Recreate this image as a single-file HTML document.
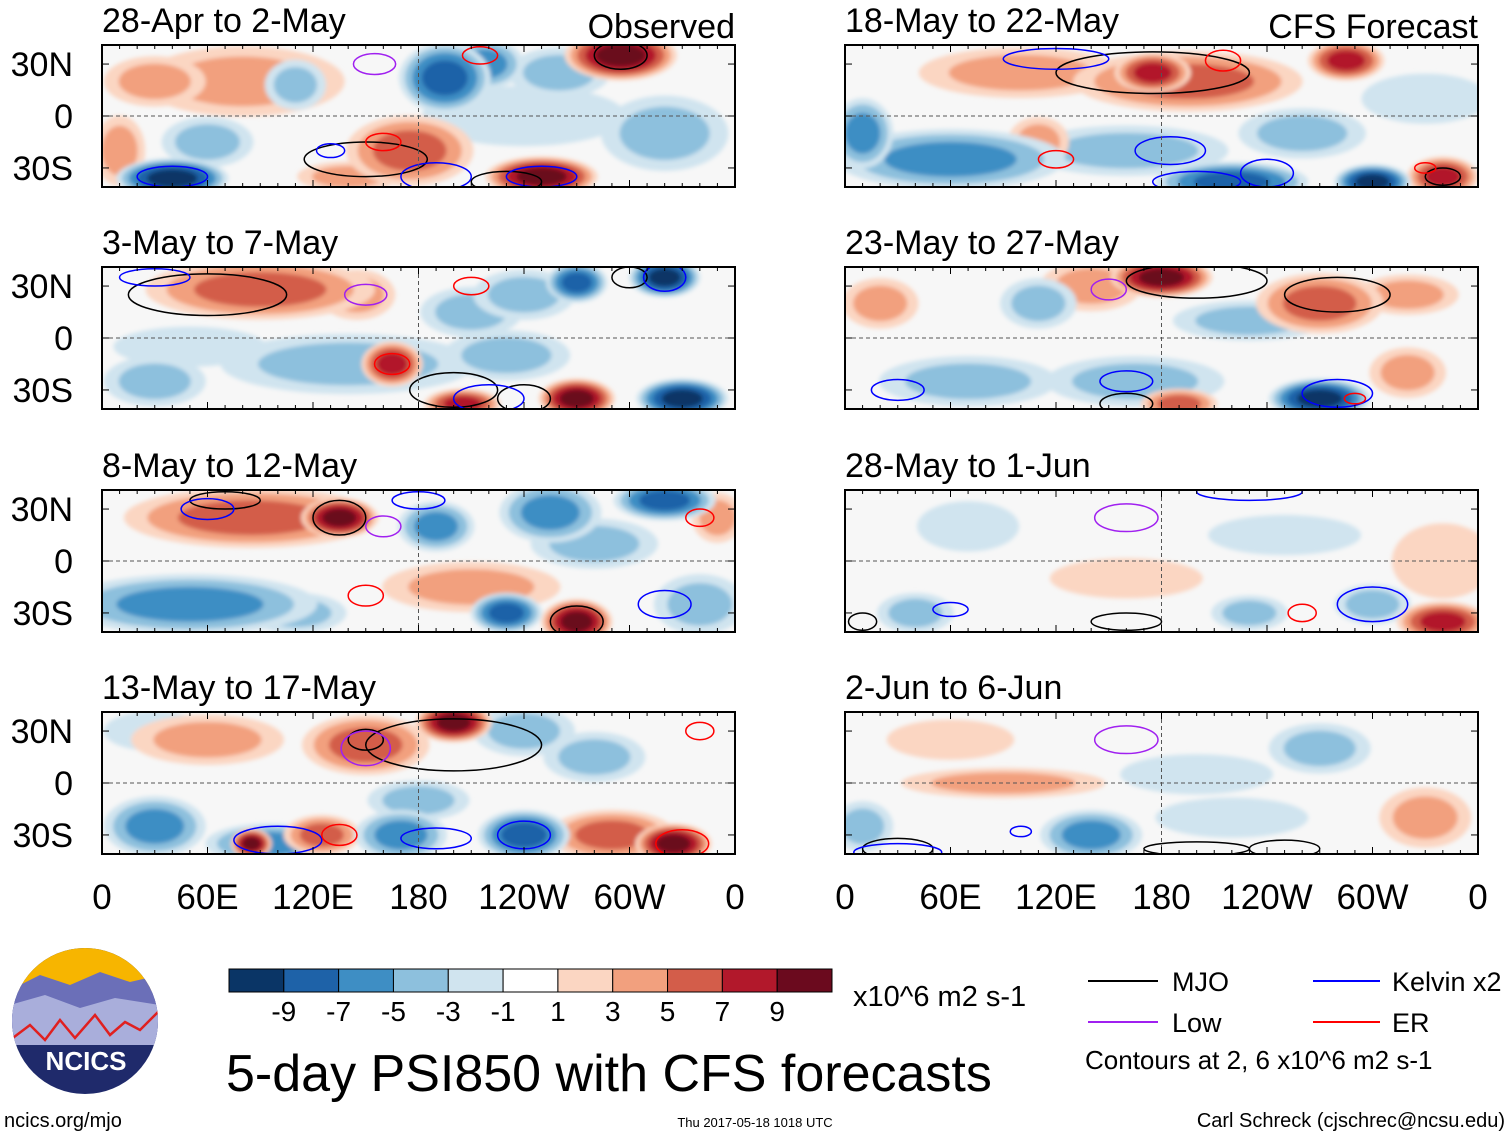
<!DOCTYPE html>
<html><head><meta charset="utf-8"><style>
body{margin:0;background:#fff;}
svg{display:block;font-family:"Liberation Sans",sans-serif;}
</style></head><body>
<svg id="fig" width="1510" height="1137" viewBox="0 0 1510 1137" xmlns="http://www.w3.org/2000/svg">
<defs><filter id="soft" x="-20%" y="-20%" width="140%" height="140%"><feGaussianBlur stdDeviation="2"/></filter></defs>
<g id="panels"></g>
<g id="static">
<text x="735" y="38" font-size="34" text-anchor="end">Observed</text>
<text x="1478" y="38" font-size="34" text-anchor="end">CFS Forecast</text>
<text x="853" y="1006" font-size="29">x10^6 m2 s-1</text>
<g>
<line x1="1088" y1="981" x2="1158" y2="981" stroke="#000" stroke-width="2"/><text x="1172" y="991" font-size="27">MJO</text>
<line x1="1088" y1="1022" x2="1158" y2="1022" stroke="#a020f0" stroke-width="2"/><text x="1172" y="1032" font-size="27">Low</text>
<line x1="1313" y1="981" x2="1380" y2="981" stroke="#0000ff" stroke-width="2"/><text x="1392" y="991" font-size="27">Kelvin x2</text>
<line x1="1313" y1="1022" x2="1380" y2="1022" stroke="#ff0000" stroke-width="2"/><text x="1392" y="1032" font-size="27">ER</text>
<text x="1085" y="1069" font-size="26">Contours at 2, 6 x10^6 m2 s-1</text>
</g>
<text x="226" y="1091" font-size="52">5-day PSI850 with CFS forecasts</text>
<text x="4" y="1127" font-size="20">ncics.org/mjo</text>
<text x="755" y="1127" font-size="13" text-anchor="middle">Thu 2017-05-18 1018 UTC</text>
<text x="1505" y="1127" font-size="20" text-anchor="end">Carl Schreck (cjschrec@ncsu.edu)</text>
<g>
<clipPath id="logoclip"><circle cx="85" cy="1021" r="73"/></clipPath>
<g clip-path="url(#logoclip)">
<rect x="10" y="946" width="150" height="150" fill="#1f2a6b"/>
<rect x="10" y="946" width="150" height="45" fill="#f7b500"/>
<path d="M10 990 L40 975 L70 985 L100 972 L130 982 L160 975 L160 1040 L10 1040Z" fill="#6b6fb8"/>
<path d="M10 1005 L45 995 L80 1008 L115 998 L160 1005 L160 1045 L10 1045Z" fill="#a9aedb"/>
<path d="M10 1040 L30 1025 L45 1040 L60 1020 L75 1038 L95 1015 L110 1035 L125 1022 L140 1030 L160 1010" fill="none" stroke="#e02020" stroke-width="2.5"/>
</g>
<text x="86" y="1070" font-size="26" font-weight="bold" fill="#fff" text-anchor="middle">NCICS</text>
</g>
</g>
<g id="colorbar"></g>
</svg>
<script>
const levels=[-9,-7,-5,-3,-1,1,3,5,7,9];
const colors=['#0a3566','#1e62a8','#3e8ec4','#8dc0dd','#d0e4ef','#ffffff','#fbd6c2','#f2a07e','#d35d4a','#b2182b','#6b0a1e'];
const lonTicks=[0,60,120,180,240,300,360];
const lonLabels=['0','60E','120E','180','120W','60W','0'];
const latTicks=[30,0,-30];
const latLabels=['30N','0','30S'];
const titles=['28-Apr to 2-May','3-May to 7-May','8-May to 12-May','13-May to 17-May','18-May to 22-May','23-May to 27-May','28-May to 1-Jun','2-Jun to 6-Jun'];
// anomaly blobs: [lon, lat, value, rxDeg, ryDeg]
const blobs0=[[295,35,9,22,10],[195,22,-7,18,14],[218,30,-5,15,10],[175,-20,5,25,14],[250,-35,9,22,8],[40,-36,-9,22,8],[80,20,3,40,14],[110,18,-3,12,10],[320,-10,-3,25,15],[10,-20,3,10,14],[140,-35,3,20,6],[60,-15,-3,18,10],[240,0,-1,40,12],[30,20,3,20,10],[260,25,-3,20,10]];
const blobs1=[[90,28,5,45,12],[145,25,3,15,10],[140,-15,-3,50,12],[165,-15,7,12,9],[205,-38,7,15,6],[270,-35,9,15,8],[330,-35,-9,18,8],[270,32,-7,12,8],[320,35,-9,14,8],[210,15,-3,20,10],[30,-25,-3,20,10],[230,-10,-3,25,10],[240,25,-3,20,10],[50,-5,-1,30,8]];
const blobs2=[[85,25,5,50,12],[135,25,9,15,8],[190,20,-5,15,10],[255,28,-5,20,12],[320,35,-7,20,8],[50,-25,-5,50,12],[210,-15,3,35,10],[230,-30,-7,14,8],[270,-35,9,14,9],[340,-25,-3,18,12],[350,25,3,10,10],[110,-30,-3,20,8],[280,10,-3,25,10]];
const blobs3=[[150,22,5,25,12],[200,35,9,15,8],[240,30,-3,20,10],[95,-35,-5,25,8],[85,-35,9,8,6],[125,-30,5,15,8],[170,-30,-5,18,10],[240,-30,-7,18,10],[290,-30,5,25,10],[325,-35,9,15,8],[30,-25,-5,20,12],[60,25,3,30,10],[180,-10,-3,20,8],[280,15,-3,20,10],[30,30,-1,20,8]];
const blobs4=[[195,20,5,45,12],[175,25,7,15,8],[285,32,7,15,8],[60,-25,-5,45,12],[160,-20,-3,40,10],[110,-15,3,12,10],[220,-38,-7,30,8],[300,-38,-9,15,7],[340,-35,7,14,8],[10,-10,-5,12,14],[100,25,3,40,10],[260,-10,-3,25,10],[330,10,-1,25,10]];
const blobs5=[[180,35,9,20,8],[270,20,5,25,12],[140,30,3,20,10],[110,20,-3,15,10],[70,-25,-3,35,10],[270,-35,-9,20,8],[190,-38,5,15,6],[165,-25,-3,35,10],[20,20,3,15,10],[320,-20,3,15,10],[230,10,-3,30,8],[320,25,3,20,8]];
const blobs6=[[340,-35,7,18,8],[300,-25,-3,15,8],[70,20,-1,20,10],[160,-10,1,30,8],[230,-30,-3,15,7],[40,-30,-3,15,8],[250,15,-1,30,8],[340,0,1,20,15]];
const blobs7=[[140,-30,-5,20,10],[90,0,3,40,6],[270,20,-3,20,10],[330,-20,3,18,12],[10,-25,-3,12,10],[200,5,-1,30,8],[60,25,1,25,8],[220,-20,-1,30,8]];
const allBlobs=[blobs0,blobs1,blobs2,blobs3,blobs4,blobs5,blobs6,blobs7];
// contours: [lon, lat, rxDeg, ryDeg, type]
const contours=[
[[150,-25,35,10,'k'],[230,-38,20,6,'k'],[295,35,15,8,'k'],[155,30,12,6,'p'],[190,-35,20,8,'b'],[250,-35,20,6,'b'],[40,-35,20,6,'b'],[130,-20,8,4,'b'],[215,35,10,5,'r'],[160,-15,10,5,'r']],
[[60,25,45,12,'k'],[300,35,10,6,'k'],[200,-30,25,10,'k'],[240,-35,15,8,'k'],[150,25,12,6,'p'],[30,35,20,5,'b'],[320,35,12,8,'b'],[220,-35,20,8,'b'],[165,-15,10,6,'r'],[210,30,10,5,'r']],
[[135,25,15,10,'k'],[270,-35,15,9,'k'],[70,35,20,5,'k'],[160,20,10,6,'p'],[60,30,15,6,'b'],[180,35,15,5,'b'],[320,-25,15,8,'b'],[150,-20,10,6,'r'],[340,25,8,5,'r']],
[[200,22,50,15,'k'],[150,25,10,6,'k'],[100,-33,25,8,'b'],[190,-32,20,6,'b'],[240,-30,15,8,'b'],[150,20,14,10,'p'],[135,-30,10,6,'r'],[330,-35,15,8,'r'],[340,30,8,5,'r']],
[[175,25,55,12,'k'],[340,-35,10,5,'k'],[120,33,30,6,'b'],[185,-20,20,8,'b'],[200,-38,25,6,'b'],[240,-33,15,8,'b'],[215,32,10,6,'r'],[120,-25,10,5,'r'],[330,-30,6,3,'r']],
[[200,33,40,10,'k'],[160,-38,15,6,'k'],[280,25,30,10,'k'],[150,28,10,6,'p'],[160,-25,15,6,'b'],[280,-32,20,8,'b'],[30,-30,15,6,'b'],[290,-35,6,3,'r']],
[[160,25,18,8,'p'],[10,-35,8,5,'k'],[160,-35,20,5,'k'],[60,-28,10,4,'b'],[300,-25,20,10,'b'],[260,-30,8,5,'r'],[230,40,30,5,'b']],
[[160,25,18,8,'p'],[30,-38,20,6,'k'],[200,-38,30,4,'k'],[250,-38,20,5,'k'],[100,-28,6,3,'b'],[30,-40,25,5,'b']]];
const ctype={k:'#000',p:'#a020f0',b:'#0000ff',r:'#ff0000'};
const colX=[102,845], rowY=[45,267,490,712], W=633, H=142;
const SCALE=1.45;
const NS='http://www.w3.org/2000/svg';
function mk(tag,attrs,parent){const e=document.createElementNS(NS,tag);for(const k in attrs)e.setAttribute(k,attrs[k]);parent.appendChild(e);return e;}
function colorFor(v){let i=0;while(i<levels.length&&v>levels[i])i++;return colors[i];}
const root=document.getElementById('panels');
for(let p=0;p<8;p++){
  const x0=colX[p<4?0:1], y0=rowY[p%4];
  const xs=lon=>x0+lon/360*W, ys=lat=>y0+H/2-lat/41*H/2;
  const g=mk('g',{},root);
  
  
  const cp=mk('clipPath',{id:'cp'+p},g);mk('rect',{x:x0,y:y0,width:W,height:H},cp);
  const inner=mk('g',{'clip-path':'url(#cp'+p+')'},g);
  mk('rect',{x:x0,y:y0,width:W,height:H,fill:'#f7f7f7'},inner);
  const fg=mk('g',{filter:'url(#soft)'},inner);
  const bl=allBlobs[p].slice().sort((a,b)=>Math.abs(a[2])-Math.abs(b[2]));
  bl.forEach(b=>{
    const a=Math.abs(b[2]),s=Math.sign(b[2]);
    for(let t=1;t<=a;t+=2){
      const f=SCALE*Math.sqrt(1-(t-1)/(a+1));
      const e=mk('ellipse',{cx:xs(b[0]),cy:ys(b[1]),rx:b[3]/360*W*f,ry:b[4]/41*H/2*f,fill:colorFor(s*(t+0.5))},fg);
      
      
    }
  });
  contours[p].forEach(c=>{
    const e=mk('ellipse',{cx:xs(c[0]),cy:ys(c[1]),rx:c[2]/360*W,ry:c[3]/41*H/2,fill:'none',stroke:ctype[c[4]],'stroke-width':1.5},inner);
    
    
  });
  mk('line',{x1:x0,y1:ys(0),x2:x0+W,y2:ys(0),stroke:'#555','stroke-dasharray':'4 3','stroke-width':1},inner);
  mk('line',{x1:xs(180),y1:y0,x2:xs(180),y2:y0+H,stroke:'#555','stroke-dasharray':'4 3','stroke-width':1},inner);
  mk('rect',{x:x0,y:y0,width:W,height:H,fill:'none',stroke:'#000','stroke-width':2},g);
  for(let l=0;l<=360;l+=10){const len=l%60==0?7:4;mk('line',{x1:xs(l),y1:y0,x2:xs(l),y2:y0+len,stroke:'#000'},g);mk('line',{x1:xs(l),y1:y0+H,x2:xs(l),y2:y0+H-len,stroke:'#000'},g);}
  latTicks.forEach(l=>{mk('line',{x1:x0,y1:ys(l),x2:x0+7,y2:ys(l),stroke:'#000'},g);mk('line',{x1:x0+W,y1:ys(l),x2:x0+W-7,y2:ys(l),stroke:'#000'},g);});
  const t=mk('text',{x:x0,y:y0-13,'font-size':34},g);t.textContent=titles[p];
  
  
  if(p<4){latTicks.forEach((l,i)=>{const lt=mk('text',{x:x0-29,y:ys(l)+12,'font-size':34,'text-anchor':'end'},g);lt.textContent=latLabels[i];
    
    });}
  if(p%4==3){lonTicks.forEach((l,i)=>{const lt=mk('text',{x:xs(l),y:909,'font-size':35,'text-anchor':'middle'},g);lt.textContent=lonLabels[i];
    
    });}
}
const cb=document.getElementById('colorbar');
const bw=603/colors.length;
colors.forEach((c,i)=>{const r=mk('rect',{x:229+i*bw,y:969,width:bw,height:23,fill:c,stroke:'#000','stroke-width':1},cb);
  
  });
levels.forEach((v,i)=>{const t=mk('text',{x:229+(i+1)*bw,y:1021,'font-size':28,'text-anchor':'middle'},cb);t.textContent=v;
  
  });
</script>
</body></html>
